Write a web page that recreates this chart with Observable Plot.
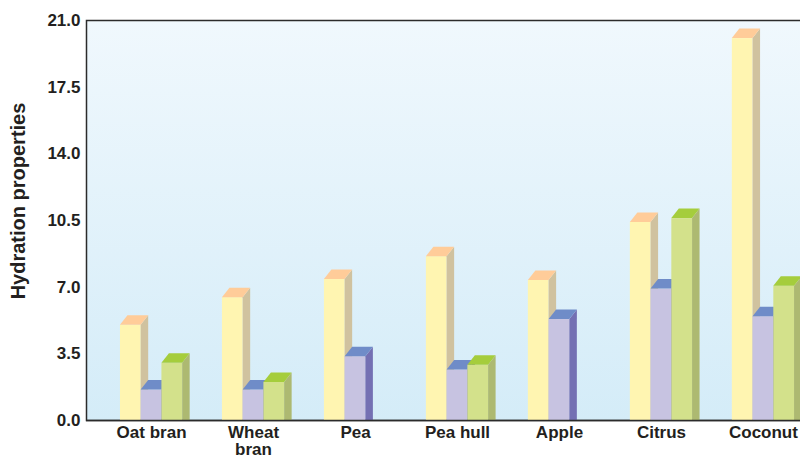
<!DOCTYPE html>
<html><head><meta charset="utf-8">
<script src="https://cdn.jsdelivr.net/npm/d3@7"></script>
<script src="https://cdn.jsdelivr.net/npm/@observablehq/plot@0.6"></script>
<style>
html,body{margin:0;padding:0;background:#fff;overflow:hidden;}
#chart svg{display:block;max-width:none;}
</style></head><body><div id="chart"></div>
<script>
// ---- data ----
const categories = ["Oat bran", "Wheat bran", "Pea", "Pea hull", "Apple", "Citrus", "Coconut"];
const seriesA = [5.0, 6.45, 7.4, 8.6, 7.35, 10.4, 20.05];
const seriesB = [1.6, 1.6, 3.35, 2.65, 5.3, 6.9, 5.45];
const seriesC = [3.0, 2.0, null, 2.9, null, 10.6, 7.05];
const yTicks = [0, 3.5, 7, 10.5, 14, 17.5, 21];
const yLabel = "Hydration properties";

// ---- styles ----
const seriesValues = [seriesA, seriesB, seriesC];
const frontColors = ["#fff5b1", "#c7c3e1", "#d3e18b"];
const topColors = ["#ffcc99", "#6f8cc8", "#a5cd3c"];
const sideColors = ["#d0c29f", "#7470b3", "#adb971"];

const W = 800, H = 456, mL = 86, mR = -28, mT = 20, mB = 36;
const pIn = 0.39, pOut = 0.333;
const bw = d3.scaleBand(categories, [mL, W - mR]).paddingInner(pIn).paddingOuter(pOut).bandwidth();
const slot = bw / 3;
const depthX = 7.5, depthY = 9.5;

const rows = seriesValues.map(vals =>
  categories.map((c, i) => ({cat: c, value: vals[i]})).filter(d => d.value != null));

const chart = Plot.plot({
  width: W, height: H,
  marginLeft: mL, marginRight: mR, marginTop: mT, marginBottom: mB,
  style: {fontFamily: "'Liberation Sans', Arial, sans-serif", fontSize: "17px", fontWeight: "bold", color: "#231f20", background: "#fff"},
  x: {domain: categories, paddingInner: pIn, paddingOuter: pOut, round: false, tickSize: 0, tickPadding: 5, label: null,
      tickFormat: d => d === "Wheat bran" ? "Wheat\nbran" : d},
  y: {domain: [0, 21], ticks: yTicks, tickFormat: d3.format(".1f"), tickSize: 0, tickPadding: 6, label: null},
  marks: [
    Plot.frame({fill: "url(#plotbg)", stroke: "#2b2b2b", strokeWidth: 1.5}),
    ...rows.map((data, k) => Plot.barY(data, {x: "cat", y: "value", fill: frontColors[k],
        insetLeft: k * slot, insetRight: (2 - k) * slot})),
    Plot.ruleY([0], {stroke: "#2b2b2b", strokeWidth: 1.5})
  ]
});
document.getElementById("chart").appendChild(chart);

// ---- decorations: background gradient and 3D faces derived from Plot's bars ----
const svg = d3.select(chart.tagName.toLowerCase() === "svg" ? chart : chart.querySelector("svg"));
const defs = svg.insert("defs", ":first-child");
const grad = defs.append("linearGradient").attr("id", "plotbg").attr("x1", 0).attr("y1", 0).attr("x2", 0).attr("y2", 1);
grad.append("stop").attr("offset", "0%").attr("stop-color", "#f0f8fd");
grad.append("stop").attr("offset", "100%").attr("stop-color", "#d4ecf8");

svg.selectAll('g[aria-label="bar"]').each(function(_, k) {
  const g = d3.select(this);
  const rects = g.selectAll("rect").nodes();
  rects.forEach(node => {
    const x = +node.getAttribute("x"), y = +node.getAttribute("y");
    const w = +node.getAttribute("width"), h = +node.getAttribute("height");
    g.append("polygon")
      .attr("points", [[x + w, y], [x + w + depthX, y - depthY], [x + w + depthX, y + h], [x + w, y + h]].join(" "))
      .attr("fill", sideColors[k]);
    g.append("polygon")
      .attr("points", [[x, y], [x + depthX, y - depthY], [x + w + depthX, y - depthY], [x + w, y]].join(" "))
      .attr("fill", topColors[k]);
  });
});

// y-axis title
svg.append("text")
  .attr("transform", "translate(20,201) rotate(-90)")
  .attr("text-anchor", "middle")
  .attr("dominant-baseline", "middle")
  .attr("fill", "#231f20")
  .style("font-size", "20px")
  .style("font-weight", "bold")
  .text(yLabel);
</script></body></html>
